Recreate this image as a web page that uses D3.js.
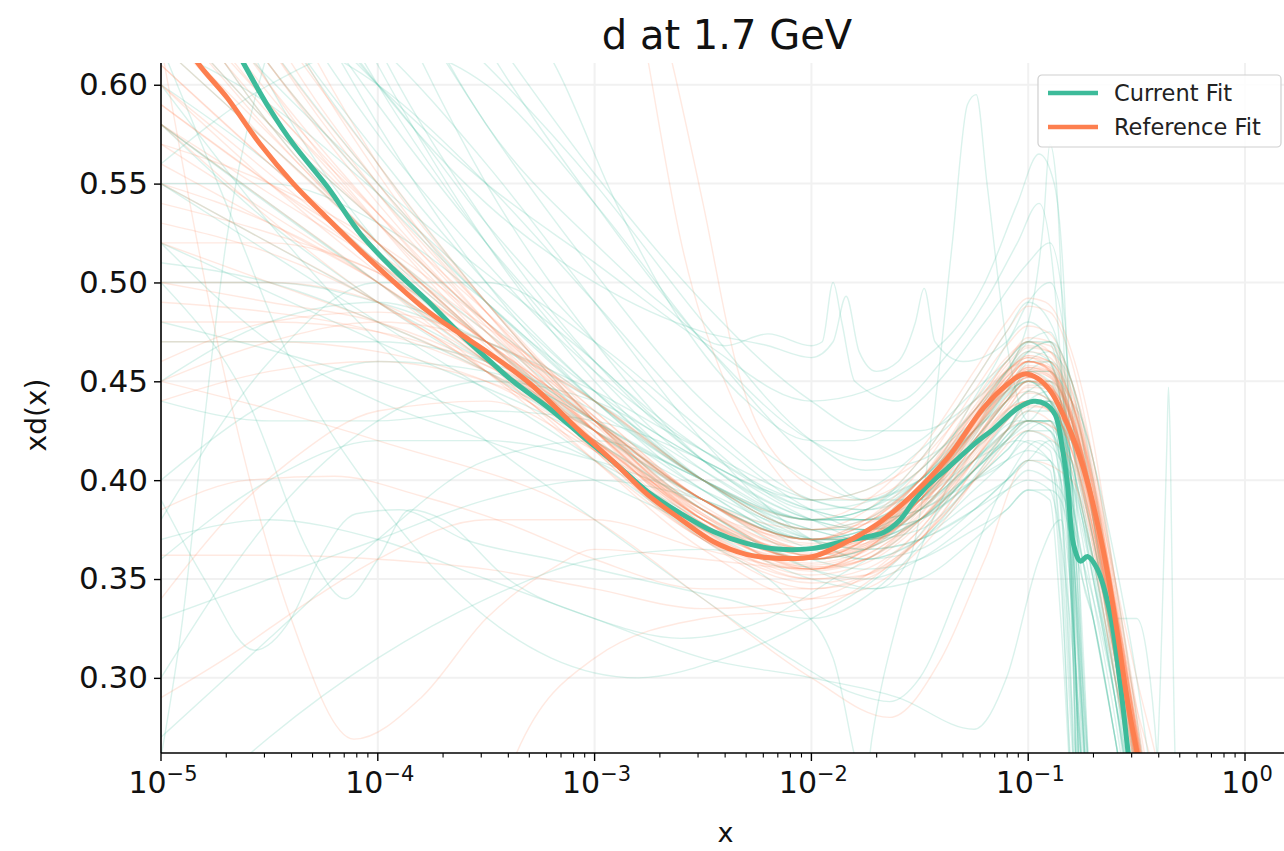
<!DOCTYPE html>
<html>
<head>
<meta charset="utf-8">
<script src="https://cdn.jsdelivr.net/npm/d3@7"></script>
<style>
  body { margin: 0; background: #fff; }
  svg { display: block; }
  text { font-family: "DejaVu Sans", sans-serif; }
</style>
</head>
<body>
<svg id="chart" width="1284" height="851"></svg>
<script>
// ---- labels and axis settings ----
const chartTitle = "d at 1.7 GeV";
const xLabel = "x";
const yLabel = "xd(x)";
const seriesNames = ["Current Fit", "Reference Fit"];
const xDomain = [1e-5, 1.513];
const yDomain = [0.262, 0.611];
const yTickValues = [0.30, 0.35, 0.40, 0.45, 0.50, 0.55, 0.60];
const xTickExponents = [-5, -4, -3, -2, -1, 0];

// ---- central values, [log10 x, xd(x)] ----
const currentCentral = [
  [-5.0, 0.690], [-4.8, 0.648], [-4.62, 0.611], [-4.5, 0.588], [-4.39, 0.570],
  [-4.23, 0.548], [-4.08, 0.5245], [-3.93, 0.507], [-3.77, 0.4906], [-3.62, 0.474],
  [-3.48, 0.460], [-3.376, 0.450], [-3.2, 0.4355], [-3.067, 0.4232], [-2.9, 0.408],
  [-2.757, 0.3943], [-2.6, 0.383], [-2.453, 0.374], [-2.3, 0.368], [-2.143, 0.365],
  [-1.991, 0.3655], [-1.834, 0.3695], [-1.75, 0.3712], [-1.668, 0.3735], [-1.59, 0.380],
  [-1.53, 0.389], [-1.465, 0.397], [-1.373, 0.406], [-1.234, 0.4196], [-1.161, 0.4257],
  [-1.05, 0.4363], [-0.976, 0.4399], [-0.92, 0.4385], [-0.875, 0.433], [-0.845, 0.418],
  [-0.819, 0.398], [-0.791, 0.3675], [-0.759, 0.359], [-0.727, 0.3614], [-0.681, 0.355],
  [-0.621, 0.332], [-0.575, 0.2966], [-0.538, 0.261], [-0.52, 0.245]
];
const referenceCentral = [
  [-5.0, 0.640], [-4.83, 0.611], [-4.695, 0.5934], [-4.543, 0.570], [-4.39, 0.550],
  [-4.234, 0.5326], [-4.08, 0.516], [-3.93, 0.5007], [-3.77, 0.4855], [-3.62, 0.474],
  [-3.48, 0.4637], [-3.3, 0.449], [-3.067, 0.4248], [-2.9, 0.408], [-2.757, 0.3928],
  [-2.6, 0.380], [-2.453, 0.369], [-2.3, 0.3625], [-2.143, 0.3604], [-1.991, 0.3614],
  [-1.834, 0.369], [-1.774, 0.3725], [-1.68, 0.379], [-1.53, 0.393], [-1.37, 0.4115],
  [-1.207, 0.4364], [-1.096, 0.4485], [-1.022, 0.4536], [-0.958, 0.4516], [-0.897, 0.445],
  [-0.819, 0.4283], [-0.745, 0.406], [-0.653, 0.364], [-0.588, 0.322], [-0.542, 0.288],
  [-0.496, 0.261], [-0.47, 0.245]
];

// ---- replicas sampled on a common log10 x grid ----
const currentGridLogX = [-5, -4.5, -4, -3.5, -3, -2.5, -2, -1.75, -1.5, -1.25, -1.1, -1, -0.9, -0.85, -0.8, -0.75, -0.7, -0.6, -0.5, -0.4, -0.3];
const currentReplicas = [
  [.75,.64,.56,.49,.43,.385,.36,.365,.385,.41,.425,.43,.425,.41,.39,.36,.33,.27,.20,.15,.10],
  [.62,.57,.52,.47,.425,.39,.37,.375,.40,.43,.445,.45,.44,.43,.41,.38,.35,.29,.22,.15,.10],
  [.55,.55,.53,.49,.44,.395,.37,.37,.385,.415,.435,.445,.45,.445,.43,.41,.38,.31,.24,.17,.10],
  [.80,.68,.58,.50,.44,.40,.375,.38,.40,.425,.44,.455,.46,.455,.44,.42,.39,.32,.25,.18,.10],
  [.45,.48,.49,.47,.44,.405,.38,.38,.39,.41,.42,.43,.43,.39,.28,.20,.17,.15,.10,.10,.10],
  [.70,.62,.55,.49,.445,.41,.39,.395,.415,.44,.46,.47,.46,.445,.42,.39,.36,.29,.21,.15,.10],
  [.40,.44,.46,.455,.43,.395,.365,.36,.37,.395,.41,.42,.415,.36,.24,.18,.15,.10,.10,.10,.10],
  [.90,.75,.62,.53,.46,.41,.38,.375,.38,.40,.41,.415,.41,.40,.36,.28,.20,.15,.10,.10,.10],
  [.30,.38,.43,.45,.44,.41,.385,.38,.385,.40,.41,.425,.43,.425,.41,.385,.36,.30,.24,.18,.10],
  [.65,.63,.60,.55,.49,.43,.39,.385,.40,.43,.455,.47,.475,.465,.45,.42,.38,.30,.22,.15,.10],
  [.58,.53,.49,.455,.42,.385,.355,.35,.36,.38,.395,.405,.40,.395,.38,.36,.34,.29,.23,.16,.10],
  [.27,.32,.37,.41,.42,.40,.37,.36,.37,.39,.40,.41,.405,.35,.25,.20,.17,.10,.10,.10,.10],
  [.85,.72,.61,.52,.45,.40,.37,.365,.37,.385,.395,.40,.395,.37,.32,.25,.20,.10,.10,.10,.10],
  [.50,.50,.49,.47,.445,.415,.39,.385,.395,.42,.44,.455,.45,.43,.36,.27,.20,.10,.10,.10,.10],
  [.36,.40,.42,.42,.41,.39,.37,.365,.37,.385,.40,.41,.42,.415,.40,.375,.35,.30,.25,.19,.10],
  [.72,.60,.52,.47,.43,.40,.38,.385,.41,.45,.475,.49,.48,.46,.40,.30,.22,.15,.10,.10,.10],
  [.60,.56,.51,.465,.425,.39,.36,.355,.36,.375,.385,.395,.395,.39,.37,.35,.33,.27,.21,.15,.10],
  [.95,.80,.66,.55,.47,.41,.38,.375,.385,.41,.43,.445,.44,.43,.41,.385,.36,.30,.23,.16,.10],
  [.44,.43,.43,.435,.43,.41,.38,.37,.375,.40,.42,.435,.44,.435,.42,.395,.37,.31,.24,.17,.10],
  [.68,.66,.62,.56,.49,.42,.37,.36,.365,.385,.40,.41,.41,.37,.27,.21,.17,.10,.10,.10,.10],
  [.52,.47,.44,.42,.40,.375,.35,.345,.35,.37,.385,.395,.39,.33,.24,.19,.15,.10,.10,.10,.10],
  [.78,.66,.575,.51,.455,.415,.39,.39,.405,.435,.455,.47,.47,.46,.44,.41,.38,.31,.23,.16,.10],
  [.38,.46,.50,.50,.47,.425,.385,.375,.38,.40,.415,.425,.42,.40,.34,.25,.18,.10,.10,.10,.10],
  [.64,.58,.53,.48,.44,.40,.37,.37,.39,.42,.44,.455,.455,.45,.44,.43,.41,.36,.30,.22,.10],
  [.33,.35,.37,.39,.40,.39,.37,.37,.38,.405,.425,.44,.44,.40,.29,.22,.18,.10,.10,.10,.10],
  [1.0,.85,.72,.62,.54,.47,.42,.41,.42,.445,.46,.47,.46,.44,.40,.35,.33,.27,.20,.15,.10],
  [.88,.80,.71,.63,.555,.49,.44,.425,.425,.44,.455,.465,.47,.465,.45,.43,.40,.33,.25,.18,.10],
  [.70,.69,.66,.61,.55,.48,.42,.405,.41,.43,.445,.455,.455,.44,.38,.29,.22,.15,.10,.10,.10],
  [.92,.78,.67,.58,.505,.44,.40,.39,.40,.425,.445,.46,.465,.46,.45,.43,.41,.35,.28,.20,.10],
  [.56,.60,.62,.60,.54,.47,.41,.39,.39,.41,.425,.44,.44,.42,.34,.25,.19,.10,.10,.10,.10],
  [.66,.58,.52,.475,.43,.39,.37,.375,.395,.425,.44,.45,.445,.43,.39,.31,.22,.15,.10,.10,.10],
  [.58,.54,.50,.46,.425,.39,.37,.37,.385,.41,.425,.435,.435,.425,.405,.38,.35,.29,.22,.15,.10],
  [.74,.64,.565,.50,.445,.40,.38,.385,.405,.435,.455,.465,.46,.44,.35,.25,.18,.10,.10,.10,.10],
  [.51,.50,.48,.455,.425,.395,.375,.375,.39,.42,.44,.45,.45,.44,.42,.395,.37,.31,.24,.17,.10],
  [.62,.59,.545,.495,.445,.40,.375,.37,.38,.40,.415,.425,.425,.41,.37,.30,.22,.15,.10,.10,.10],
  [.82,.70,.60,.52,.455,.405,.38,.38,.395,.425,.445,.46,.46,.45,.43,.40,.37,.31,.24,.17,.10],
  [.47,.47,.47,.46,.435,.40,.375,.37,.38,.405,.425,.44,.445,.43,.37,.28,.20,.12,.10,.10,.10],
  [.69,.61,.545,.49,.44,.40,.375,.375,.39,.415,.43,.44,.44,.43,.41,.385,.355,.29,.22,.15,.10],
  [.55,.52,.49,.46,.43,.40,.38,.38,.395,.425,.45,.465,.47,.455,.38,.28,.20,.12,.10,.10,.10],
  [.77,.67,.59,.52,.46,.415,.385,.38,.385,.405,.42,.43,.43,.42,.40,.37,.34,.28,.21,.15,.10]
];
// replicas with sharper local structure, [log10 x, xd(x)]
const currentIrregularReplicas = [
  [[-5,0.52],[-4,0.47],[-3,0.42],[-2.5,0.385],[-2,0.355],[-1.7,0.345],[-1.55,0.36],[-1.45,0.42],[-1.35,0.52],[-1.28,0.59],[-1.24,0.595],[-1.19,0.55],[-1.1,0.47],[-1.0,0.43],[-0.9,0.44],[-0.8,0.40],[-0.74,0.30],[-0.7,0.2]],
  [[-5,0.8],[-4.5,0.68],[-4,0.6],[-3.5,0.54],[-3,0.50],[-2.5,0.475],[-2.2,0.468],[-2.0,0.462],[-1.9,0.47],[-1.84,0.493],[-1.78,0.465],[-1.7,0.455],[-1.6,0.46],[-1.52,0.48],[-1.48,0.497],[-1.43,0.47],[-1.3,0.46],[-1.1,0.47],[-1,0.49],[-0.9,0.50],[-0.8,0.44],[-0.75,0.3],[-0.72,0.2]],
  [[-5,0.39],[-4.8,0.35],[-4.57,0.314],[-4.4,0.33],[-4.27,0.36],[-4.1,0.383],[-3.9,0.385],[-3.6,0.37],[-3.2,0.36],[-2.8,0.35],[-2.4,0.34],[-2,0.33],[-1.7,0.345],[-1.4,0.38],[-1.1,0.42],[-0.95,0.43],[-0.85,0.42],[-0.78,0.3],[-0.75,0.2]],
  [[-5,0.26],[-4.9,0.33],[-4.8,0.43],[-4.7,0.52],[-4.55,0.6],[-4.4,0.64],[-4.0,0.6],[-3.5,0.53],[-3,0.47],[-2.5,0.42],[-2,0.385],[-1.5,0.40],[-1.2,0.45],[-1,0.48],[-0.9,0.47],[-0.8,0.40],[-0.74,0.25]],
  [[-5,0.50],[-4.6,0.44],[-4.3,0.36],[-4.15,0.34],[-4.0,0.36],[-3.85,0.385],[-3.7,0.38],[-3.4,0.35],[-3.0,0.33],[-2.6,0.32],[-2.2,0.33],[-1.9,0.35],[-1.6,0.37],[-1.3,0.40],[-1.05,0.42],[-0.9,0.41],[-0.82,0.35],[-0.78,0.2]],
  [[-5,0.6],[-4.5,0.53],[-4,0.47],[-3.5,0.42],[-3,0.38],[-2.5,0.34],[-2.1,0.31],[-1.8,0.292],[-1.64,0.288],[-1.5,0.30],[-1.3,0.35],[-1.1,0.40],[-0.95,0.42],[-0.85,0.41],[-0.78,0.3],[-0.75,0.2]],
  [[-5,0.37],[-4.5,0.38],[-4,0.37],[-3.5,0.35],[-3,0.33],[-2.5,0.31],[-2,0.30],[-1.6,0.29],[-1.25,0.274],[-1.1,0.30],[-0.95,0.36],[-0.85,0.38],[-0.78,0.30],[-0.74,0.2]],
  [[-4.2,0.80],[-3.6,0.68],[-3.16,0.605],[-2.9,0.54],[-2.6,0.48],[-2.3,0.44],[-2.0,0.42],[-1.8,0.42],[-1.5,0.44],[-1.2,0.48],[-1.0,0.51],[-0.9,0.52],[-0.83,0.48],[-0.78,0.3],[-0.75,0.2]],
  [[-5,0.95],[-4.5,0.80],[-4,0.68],[-3.5,0.58],[-3,0.52],[-2.7,0.49],[-2.4,0.468],[-2.2,0.474],[-2.0,0.468],[-1.95,0.47],[-1.9,0.50],[-1.86,0.48],[-1.8,0.45],[-1.6,0.44],[-1.4,0.46],[-1.2,0.49],[-1.05,0.52],[-0.95,0.54],[-0.88,0.5],[-0.8,0.35],[-0.76,0.2]],
  [[-5,0.58],[-4,0.5],[-3,0.43],[-2.5,0.39],[-2,0.37],[-1.5,0.39],[-1.2,0.43],[-1,0.45],[-0.9,0.44],[-0.8,0.39],[-0.7,0.33],[-0.6,0.27],[-0.52,0.22],[-0.45,0.19],[-0.39,0.30],[-0.36,0.42],[-0.353,0.447],[-0.345,0.42],[-0.33,0.30],[-0.3,0.18]],
  [[-5,0.74],[-4.5,0.66],[-4,0.60],[-3.5,0.55],[-3,0.51],[-2.5,0.47],[-2,0.44],[-1.5,0.46],[-1.2,0.50],[-1.05,0.54],[-0.95,0.565],[-0.88,0.55],[-0.82,0.46],[-0.78,0.3],[-0.76,0.2]],
  [[-5,0.62],[-4.7,0.54],[-4.4,0.46],[-4.0,0.39],[-3.6,0.34],[-3.2,0.31],[-2.8,0.30],[-2.4,0.31],[-2.0,0.33],[-1.6,0.36],[-1.3,0.40],[-1.05,0.43],[-0.9,0.43],[-0.8,0.38],[-0.75,0.25]],
  [[-5,0.22],[-4.5,0.27],[-4,0.31],[-3.5,0.34],[-3,0.36],[-2.5,0.365],[-2,0.36],[-1.5,0.38],[-1.2,0.41],[-1,0.43],[-0.9,0.43],[-0.82,0.38],[-0.77,0.22]],
  [[-5,0.55],[-4,0.48],[-3,0.41],[-2.5,0.37],[-2.1,0.34],[-1.9,0.31],[-1.8,0.26],[-1.76,0.24],[-1.72,0.27],[-1.6,0.33],[-1.4,0.39],[-1.2,0.43],[-1,0.45],[-0.9,0.44],[-0.82,0.38],[-0.77,0.22]],
  [[-5,0.66],[-4,0.55],[-3,0.46],[-2.5,0.41],[-2,0.38],[-1.5,0.40],[-1.2,0.44],[-1.0,0.48],[-0.93,0.53],[-0.9,0.57],[-0.87,0.55],[-0.83,0.45],[-0.8,0.35],[-0.77,0.2]],
  [[-5,0.48],[-4,0.45],[-3,0.41],[-2.5,0.38],[-2,0.36],[-1.5,0.38],[-1.2,0.41],[-1,0.43],[-0.9,0.425],[-0.8,0.40],[-0.7,0.36],[-0.6,0.33],[-0.5,0.33],[-0.45,0.31],[-0.4,0.25],[-0.37,0.18]]
];

const referenceGridLogX = [-5, -4.5, -4, -3.5, -3, -2.5, -2, -1.75, -1.5, -1.25, -1.1, -1, -0.9, -0.8, -0.7, -0.6, -0.5, -0.4, -0.3];
const referenceReplicas = [
  [.60,.55,.505,.465,.425,.385,.37,.38,.40,.435,.455,.462,.455,.43,.385,.325,.265,.2,.15],
  [.70,.60,.53,.47,.415,.37,.355,.365,.39,.425,.445,.452,.447,.425,.38,.32,.26,.2,.15],
  [.55,.53,.50,.46,.42,.38,.36,.37,.39,.42,.44,.445,.44,.415,.37,.31,.25,.19,.15],
  [.66,.58,.52,.47,.425,.38,.365,.375,.40,.44,.462,.47,.465,.44,.395,.335,.27,.21,.15],
  [.50,.50,.49,.46,.42,.38,.355,.36,.38,.41,.43,.44,.437,.415,.375,.318,.255,.19,.15],
  [.75,.63,.55,.485,.43,.385,.365,.372,.395,.43,.452,.46,.455,.432,.39,.33,.265,.2,.15],
  [.58,.54,.50,.455,.41,.37,.35,.355,.375,.41,.43,.438,.435,.415,.375,.32,.26,.2,.15],
  [.47,.47,.465,.45,.42,.385,.365,.37,.39,.425,.447,.456,.452,.43,.385,.325,.262,.2,.15],
  [.63,.575,.52,.47,.42,.375,.35,.352,.37,.40,.42,.43,.428,.41,.37,.315,.255,.19,.15],
  [.80,.66,.56,.49,.43,.38,.36,.37,.395,.432,.456,.467,.465,.445,.402,.34,.275,.21,.15],
  [.53,.515,.49,.455,.415,.375,.36,.37,.395,.435,.46,.47,.468,.446,.40,.338,.272,.205,.15],
  [.68,.60,.535,.475,.42,.37,.345,.35,.37,.405,.425,.435,.43,.405,.36,.30,.24,.18,.15],
  [.57,.55,.52,.48,.435,.39,.37,.378,.40,.437,.46,.472,.47,.45,.41,.35,.285,.22,.15],
  [.44,.455,.46,.45,.425,.39,.365,.37,.39,.42,.44,.45,.445,.42,.375,.315,.25,.19,.15],
  [.72,.62,.545,.48,.425,.38,.36,.368,.39,.425,.447,.457,.455,.435,.392,.332,.268,.2,.15],
  [.61,.56,.51,.46,.41,.365,.34,.345,.365,.40,.425,.437,.437,.42,.38,.322,.26,.2,.15],
  [.52,.52,.505,.47,.425,.38,.355,.36,.385,.425,.45,.46,.456,.43,.382,.32,.255,.19,.15],
  [.66,.59,.535,.485,.435,.39,.37,.38,.405,.445,.468,.478,.474,.45,.405,.345,.28,.215,.15],
  [.49,.485,.475,.455,.425,.39,.37,.372,.388,.415,.432,.44,.437,.416,.374,.316,.254,.19,.15],
  [.59,.55,.51,.47,.43,.39,.365,.368,.385,.415,.436,.447,.446,.428,.39,.335,.275,.21,.15],
  [.77,.645,.555,.485,.425,.375,.355,.365,.39,.428,.45,.46,.456,.432,.388,.328,.265,.2,.15],
  [.54,.525,.505,.47,.43,.39,.37,.378,.40,.43,.448,.455,.448,.42,.37,.305,.24,.18,.15],
  [.62,.57,.52,.468,.415,.37,.348,.352,.372,.41,.435,.448,.448,.43,.39,.332,.27,.205,.15],
  [.46,.48,.485,.47,.44,.40,.375,.378,.395,.425,.445,.452,.448,.425,.38,.32,.258,.195,.15],
  [.69,.61,.545,.485,.43,.38,.356,.36,.38,.415,.438,.45,.45,.432,.392,.335,.272,.207,.15],
  [.58,.545,.51,.47,.43,.39,.37,.378,.40,.435,.455,.462,.458,.44,.40,.35,.30,.255,.20],
  [.65,.59,.53,.475,.425,.38,.36,.37,.392,.428,.45,.46,.457,.437,.395,.337,.285,.245,.19],
  [.56,.53,.50,.462,.42,.378,.356,.362,.383,.418,.44,.45,.447,.427,.384,.326,.264,.2,.15],
  [.71,.62,.55,.49,.432,.383,.362,.37,.393,.43,.453,.463,.46,.44,.397,.337,.272,.207,.15],
  [.50,.49,.48,.458,.425,.385,.362,.368,.39,.426,.45,.46,.457,.434,.39,.33,.266,.2,.15],
  [.64,.58,.53,.48,.43,.385,.362,.367,.387,.42,.442,.452,.448,.426,.382,.322,.26,.196,.15],
  [.60,.555,.51,.465,.418,.374,.352,.358,.378,.412,.434,.444,.441,.42,.378,.32,.258,.195,.15],
  [.57,.535,.50,.46,.42,.38,.36,.366,.388,.424,.447,.457,.454,.433,.39,.33,.267,.2,.15],
  [.67,.595,.535,.478,.425,.378,.357,.364,.387,.423,.446,.456,.453,.432,.388,.328,.265,.2,.15],
  [.52,.50,.48,.455,.42,.382,.362,.37,.392,.43,.454,.465,.462,.44,.397,.337,.272,.207,.15],
  [.63,.57,.52,.47,.422,.378,.358,.365,.386,.42,.442,.452,.45,.43,.387,.328,.266,.2,.15],
  [.59,.55,.515,.475,.432,.39,.368,.373,.393,.427,.448,.457,.453,.43,.385,.325,.262,.2,.15],
  [.73,.635,.56,.49,.43,.382,.36,.367,.39,.428,.452,.462,.46,.44,.398,.34,.275,.21,.15],
  [.48,.48,.475,.458,.428,.39,.367,.372,.392,.426,.448,.458,.455,.434,.39,.33,.267,.2,.15],
  [.61,.56,.515,.47,.425,.382,.36,.366,.387,.422,.445,.455,.452,.432,.39,.332,.27,.205,.15],
  [.55,.52,.49,.455,.415,.375,.354,.36,.382,.418,.44,.45,.447,.426,.384,.325,.262,.2,.15],
  [.69,.61,.54,.48,.428,.383,.363,.372,.396,.434,.458,.468,.465,.443,.40,.34,.275,.21,.15],
  [.45,.47,.48,.47,.44,.40,.375,.38,.40,.433,.454,.463,.46,.438,.394,.334,.27,.205,.15],
  [.65,.585,.53,.48,.432,.387,.365,.372,.395,.43,.452,.46,.456,.434,.39,.33,.266,.2,.15]
];
const referenceIrregularReplicas = [
  [[-5,0.362],[-4.5,0.362],[-4,0.36],[-3.5,0.355],[-3,0.345],[-2.5,0.335],[-2,0.34],[-1.5,0.375],[-1.25,0.41],[-1,0.44],[-0.8,0.42],[-0.6,0.31],[-0.45,0.22]],
  [[-5,0.385],[-4.6,0.40],[-4.2,0.402],[-3.8,0.392],[-3.4,0.378],[-3,0.36],[-2.5,0.345],[-2,0.345],[-1.5,0.37],[-1.2,0.405],[-1,0.425],[-0.8,0.41],[-0.6,0.30],[-0.45,0.21]],
  [[-5,0.34],[-4.7,0.38],[-4.4,0.41],[-4,0.435],[-3.5,0.44],[-3,0.415],[-2.5,0.385],[-2,0.36],[-1.5,0.38],[-1.2,0.42],[-1,0.44],[-0.8,0.425],[-0.65,0.36],[-0.45,0.23]],
  [[-5,0.62],[-4.7,0.45],[-4.4,0.33],[-4.11,0.269],[-3.8,0.29],[-3.5,0.33],[-3.2,0.355],[-3,0.365],[-2.5,0.36],[-2,0.355],[-1.5,0.38],[-1,0.44],[-0.8,0.42],[-0.6,0.32],[-0.45,0.22]],
  [[-3.2,0.95],[-3.0,0.78],[-2.75,0.61],[-2.6,0.52],[-2.4,0.45],[-2.2,0.41],[-2,0.39],[-1.75,0.395],[-1.5,0.41],[-1.25,0.44],[-1,0.46],[-0.8,0.44],[-0.6,0.33],[-0.45,0.23]],
  [[-3.2,0.90],[-3.0,0.75],[-2.64,0.61],[-2.5,0.54],[-2.35,0.46],[-2.1,0.405],[-1.8,0.39],[-1.5,0.405],[-1.25,0.435],[-1,0.455],[-0.8,0.43],[-0.6,0.33],[-0.45,0.23]],
  [[-5,0.45],[-4,0.42],[-3,0.38],[-2.5,0.34],[-2,0.30],[-1.64,0.28],[-1.4,0.31],[-1.2,0.36],[-1,0.41],[-0.8,0.40],[-0.6,0.31],[-0.45,0.22]],
  [[-3.5,0.22],[-3.36,0.262],[-3,0.31],[-2.5,0.33],[-2,0.335],[-1.5,0.37],[-1,0.43],[-0.8,0.42],[-0.6,0.32],[-0.45,0.22]],
  [[-5,0.29],[-4.7,0.31],[-4.3,0.34],[-4,0.36],[-3.5,0.38],[-3,0.38],[-2.5,0.365],[-2,0.355],[-1.5,0.385],[-1,0.44],[-0.8,0.425],[-0.6,0.32],[-0.45,0.22]],
  [[-5,0.58],[-4,0.49],[-3,0.43],[-2.5,0.39],[-2,0.375],[-1.5,0.41],[-1.25,0.45],[-1.1,0.475],[-1,0.488],[-0.9,0.485],[-0.8,0.46],[-0.7,0.41],[-0.6,0.345],[-0.5,0.27],[-0.4,0.2]],
  [[-5,0.64],[-4,0.52],[-3,0.44],[-2.5,0.40],[-2,0.38],[-1.5,0.415],[-1.25,0.455],[-1.1,0.48],[-1,0.492],[-0.92,0.49],[-0.8,0.465],[-0.7,0.42],[-0.6,0.35],[-0.5,0.28],[-0.4,0.2]]
];

// ---- colours ----
const currentColor = "#3dbb9a";
const referenceColor = "#fd7f4f";

// ---- layout ----
const svg = d3.select("#chart");
const W = 1284, H = 851;
const plot = { left: 161, right: 1284, top: 63, bottom: 753 };

const x = d3.scaleLog().domain(xDomain).range([plot.left, plot.right]);
const y = d3.scaleLinear().domain(yDomain).range([plot.bottom, plot.top]);

svg.append("rect").attr("width", W).attr("height", H).attr("fill", "#fff");

svg.append("defs").append("clipPath").attr("id", "plot-clip")
  .append("rect")
  .attr("x", plot.left).attr("y", plot.top)
  .attr("width", plot.right - plot.left).attr("height", plot.bottom - plot.top);

// grid
const grid = svg.append("g").attr("class", "grid");
grid.selectAll("line.gy").data(yTickValues).join("line")
  .attr("x1", plot.left).attr("x2", plot.right)
  .attr("y1", d => y(d)).attr("y2", d => y(d))
  .attr("stroke", "#f1f1f1").attr("stroke-width", 2);
grid.selectAll("line.gx").data(xTickExponents).join("line")
  .attr("x1", d => x(Math.pow(10, d))).attr("x2", d => x(Math.pow(10, d)))
  .attr("y1", plot.top).attr("y2", plot.bottom)
  .attr("stroke", "#f1f1f1").attr("stroke-width", 2);

// line generators
const replicaLine = d3.line()
  .x(d => x(Math.pow(10, d[0])))
  .y(d => y(d[1]))
  .curve(d3.curveMonotoneX);
const centralLine = d3.line()
  .x(d => x(Math.pow(10, d[0])))
  .y(d => y(d[1]))
  .curve(d3.curveCatmullRom.alpha(0.5));

const onGrid = (gridLogX, vals) => gridLogX.map((lx, i) => [lx, vals[i]]);

const curves = svg.append("g").attr("clip-path", "url(#plot-clip)");

const currentAll = currentReplicas.map(r => onGrid(currentGridLogX, r)).concat(currentIrregularReplicas);
const referenceAll = referenceReplicas.map(r => onGrid(referenceGridLogX, r)).concat(referenceIrregularReplicas);

curves.append("g").selectAll("path").data(currentAll).join("path")
  .attr("d", replicaLine).attr("fill", "none")
  .attr("stroke", currentColor).attr("stroke-opacity", 0.19).attr("stroke-width", 1.4);

curves.append("g").selectAll("path").data(referenceAll).join("path")
  .attr("d", replicaLine).attr("fill", "none")
  .attr("stroke", referenceColor).attr("stroke-opacity", 0.17).attr("stroke-width", 1.4);

curves.append("path").datum(currentCentral)
  .attr("d", centralLine).attr("fill", "none")
  .attr("stroke", currentColor).attr("stroke-width", 5).attr("stroke-linejoin", "round");
curves.append("path").datum(referenceCentral)
  .attr("d", centralLine).attr("fill", "none")
  .attr("stroke", referenceColor).attr("stroke-width", 5).attr("stroke-linejoin", "round");

// y axis
const yAxis = d3.axisLeft(y).tickValues(yTickValues).tickFormat(d3.format(".2f")).tickSize(7).tickPadding(6);
const gy = svg.append("g").attr("transform", `translate(${plot.left},0)`).call(yAxis);
gy.select(".domain").attr("stroke", "#000").attr("stroke-width", 1.6)
  .attr("d", `M0,${plot.top}V${plot.bottom}`);
gy.selectAll(".tick line").attr("stroke", "#000").attr("stroke-width", 1.4);
gy.selectAll(".tick text").attr("font-size", 31).attr("fill", "#111")
  .attr("font-family", "DejaVu Sans, sans-serif");

// x axis: major decades with minor ticks
const majorX = xTickExponents.map(e => Math.pow(10, e));
const minorX = [];
for (let e = -5; e <= 0; e++) {
  for (let k = 2; k <= 9; k++) {
    const v = k * Math.pow(10, e);
    if (v <= xDomain[1]) minorX.push(v);
  }
}
const gx = svg.append("g").attr("transform", `translate(0,${plot.bottom})`);
gx.append("line").attr("x1", plot.left).attr("x2", plot.right)
  .attr("stroke", "#000").attr("stroke-width", 1.6);
gx.selectAll("line.minor").data(minorX).join("line")
  .attr("x1", d => x(d)).attr("x2", d => x(d))
  .attr("y1", 0).attr("y2", 4.5).attr("stroke", "#000").attr("stroke-width", 1.1);
gx.selectAll("line.major").data(majorX).join("line")
  .attr("x1", d => x(d)).attr("x2", d => x(d))
  .attr("y1", 0).attr("y2", 8).attr("stroke", "#000").attr("stroke-width", 1.4);
const xLabels = gx.selectAll("text.tl").data(xTickExponents).join("text")
  .attr("x", d => x(Math.pow(10, d)) + 2)
  .attr("y", 40)
  .attr("text-anchor", "middle")
  .attr("font-size", 30).attr("fill", "#111");
xLabels.append("tspan").text("10");
xLabels.append("tspan").attr("dy", -12).attr("font-size", 21)
  .text(d => (d < 0 ? "\u2212" + Math.abs(d) : String(d)));

// axis labels and title
svg.append("text").attr("x", (plot.left + plot.right) / 2 + 3).attr("y", 842)
  .attr("text-anchor", "middle").attr("font-size", 27).attr("fill", "#111").text(xLabel);
svg.append("text")
  .attr("transform", `translate(46,${(plot.top + plot.bottom) / 2 + 7}) rotate(-90)`)
  .attr("text-anchor", "middle").attr("font-size", 28).attr("fill", "#111").text(yLabel);
svg.append("text").attr("x", 727).attr("y", 49)
  .attr("text-anchor", "middle").attr("font-size", 40).attr("fill", "#111").text(chartTitle);

// legend
const legend = svg.append("g").attr("transform", "translate(1038,75)");
legend.append("rect").attr("width", 243).attr("height", 72).attr("rx", 4)
  .attr("fill", "#fff").attr("fill-opacity", 0.85)
  .attr("stroke", "#d0d0d0").attr("stroke-width", 1.2);
const legendColors = [currentColor, referenceColor];
seriesNames.forEach((name, i) => {
  const ly = 18 + i * 34;
  legend.append("line").attr("x1", 10).attr("x2", 60).attr("y1", ly).attr("y2", ly)
    .attr("stroke", legendColors[i]).attr("stroke-width", 4.5);
  legend.append("text").attr("x", 76).attr("y", ly + 8)
    .attr("font-size", 22.5).attr("fill", "#222").text(name);
});
</script>
</body>
</html>
